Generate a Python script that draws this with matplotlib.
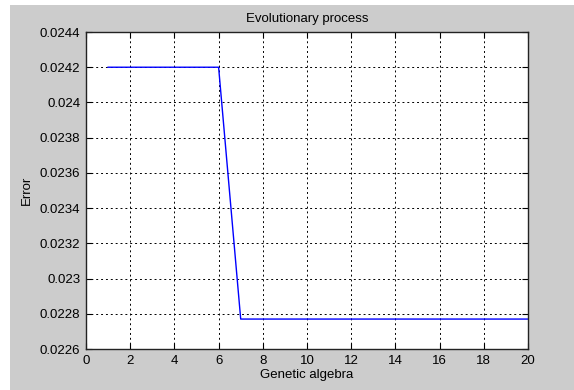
import numpy as np
import matplotlib.pyplot as plt
from matplotlib.patches import Rectangle

plt.rcParams['font.family'] = ['Liberation Sans', 'DejaVu Sans']

generation = [1, 2, 3, 4, 5, 6, 7, 8, 9, 10, 11, 12, 13, 14, 15, 16, 17, 18, 19, 20]
error = [0.02420] * 6 + [0.022770] * 14

W, H = 574, 390
fig = plt.figure(figsize=(W / 100, H / 100), dpi=100, facecolor='white')
fig.patches.append(Rectangle((10 / W, 0), 1 - 10 / W, 1 - 5 / H,
                             transform=fig.transFigure, facecolor='#cccccc',
                             edgecolor='none', zorder=-1))

ax = fig.add_axes([86 / W, 1 - 349 / H, (528 - 86) / W, (349 - 32) / H])
ax.plot(generation, error, color='#0000ff', lw=1.0)

ax.set_xlim(0, 20)
ax.set_ylim(0.0226, 0.0244)
ax.set_xticks(np.arange(0, 21, 2))
yt = np.arange(0.0226, 0.02441, 0.0002)
ax.set_yticks(yt)
ax.set_yticklabels([f"{v:.4f}".rstrip('0') for v in yt])

ax.grid(True, color='black', linestyle=(0, (2, 3)), linewidth=0.7)
ax.tick_params(direction='in', top=True, right=True, length=4, labelsize=9.5, pad=4)
for s in ax.spines.values():
    s.set_linewidth(1.0)
    s.set_color('#222222')

ax.set_title("Evolutionary process", fontsize=9.5, pad=7)
ax.set_xlabel("Genetic algebra", fontsize=9.5, labelpad=2)
ax.set_ylabel("Error", fontsize=9.5, labelpad=5)

fig.savefig("out.png", dpi=100, facecolor=fig.get_facecolor())
